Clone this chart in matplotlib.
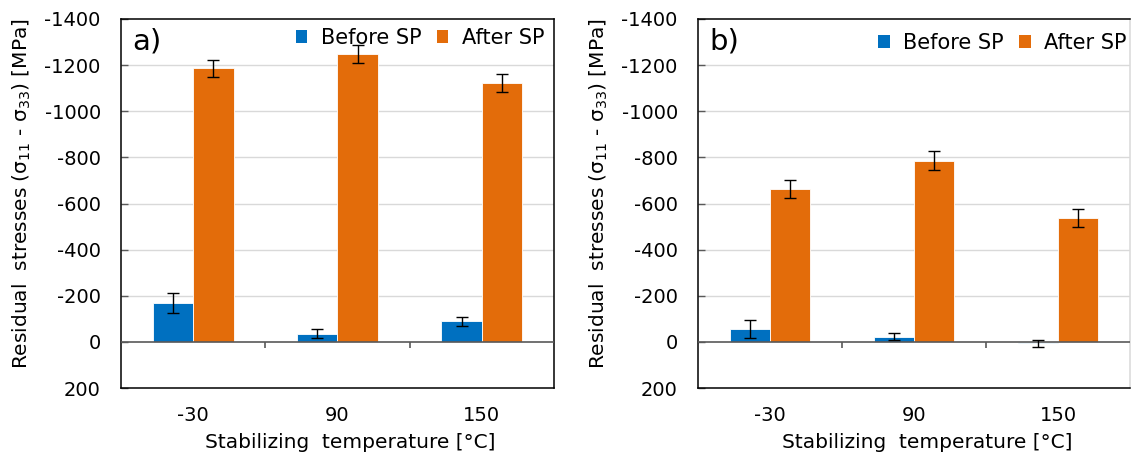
import matplotlib
matplotlib.use("Agg")
import matplotlib.pyplot as plt
from matplotlib.patches import Patch
import numpy as np

plt.rcParams['font.family'] = ['DejaVu Sans']
plt.rcParams['mathtext.default'] = 'regular'

categories = ['-30', '90', '150']
series_names = ['Before SP', 'After SP']

a_before = [-167, -36, -90]
a_before_err = [43, 18, 19]
a_after = [-1187, -1248, -1122]
a_after_err = [37, 38, 38]

b_before = [-56, -22, 7]
b_before_err = [40, 15, 16]
b_after = [-661, -786, -535]
b_after_err = [39, 41, 39]

yticks = [-1400, -1200, -1000, -800, -600, -400, -200, 0, 200]

BLUE = '#0070C0'
ORANGE = '#E36C0A'
GRID = '#d9d9d9'
AXIS = '#595959'

fig = plt.figure(figsize=(11.31, 4.59), dpi=100)

panels = [
    dict(rect=[121/1131, 1-388/459, 433/1131, 369/459], label='a)',
         before=a_before, before_err=a_before_err, after=a_after, after_err=a_after_err,
         leg=(0.978, 0.9485), right_color='black', xright=2.5),
    dict(rect=[698/1131, 1-388/459, 432/1131, 369/459], label='b)',
         before=b_before, before_err=b_before_err, after=b_after, after_err=b_after_err,
         leg=(0.993, 0.935), right_color=GRID, xright=2.5),
]

bw = 0.281
for p in panels:
    ax = fig.add_axes(p['rect'])
    x = np.arange(len(categories))
    ax.set_ylim(200, -1400)
    ax.set_xlim(-0.5, p['xright'])
    for yv in yticks[1:-2]:
        ax.axhline(yv, color=GRID, lw=1.0, zorder=0)
    ax.bar(x - bw/2, p['before'], width=bw, color=BLUE, edgecolor='white', linewidth=0.6, zorder=2)
    ax.bar(x + bw/2, p['after'], width=bw, color=ORANGE, edgecolor='white', linewidth=0.6, zorder=2)
    ax.axhline(0, color=AXIS, lw=1.2, zorder=3)
    ax.errorbar(x - bw/2, p['before'], yerr=p['before_err'], fmt='none', ecolor='black',
                elinewidth=1.0, capsize=4.5, capthick=1.0, zorder=4)
    ax.errorbar(x + bw/2, p['after'], yerr=p['after_err'], fmt='none', ecolor='black',
                elinewidth=1.0, capsize=4.5, capthick=1.0, zorder=4)
    # category separator ticks on the zero axis
    ax.vlines([0.5, 1.5], 0, 26, color=AXIS, lw=1.2, zorder=3)

    ax.set_xticks(x)
    ax.set_xticklabels(categories)
    ax.set_yticks(yticks)
    ax.set_yticklabels([str(v) for v in yticks])
    ax.tick_params(axis='x', length=0, pad=13, labelsize=14)
    ax.tick_params(axis='y', direction='in', length=5, width=1.0, color=AXIS, pad=14.5, labelsize=14)

    for s in ['left', 'top', 'bottom']:
        ax.spines[s].set_color('black')
        ax.spines[s].set_linewidth(1.1)
    ax.spines['right'].set_color(p['right_color'])
    ax.spines['right'].set_linewidth(1.1)

    ax.set_xlabel('Stabilizing  temperature [°C]', fontsize=14.5, va='center', ha='center')
    ax.xaxis.set_label_coords(0.53, -0.149)
    ax.set_ylabel('Residual  stresses (σ$_{11}$ - σ$_{33}$) [MPa]', fontsize=14.5, va='center', ha='center')
    ax.yaxis.set_label_coords(-0.229, 0.526)

    ax.text(0.027, 0.938, p['label'], transform=ax.transAxes, fontsize=21, va='center', ha='left')

    handles = [Patch(facecolor=BLUE, edgecolor='none'), Patch(facecolor=ORANGE, edgecolor='none')]
    ax.legend(handles, series_names, loc='center right', bbox_to_anchor=p['leg'], ncol=2,
              frameon=False, fontsize=15, handlelength=0.55, handleheight=0.55,
              handletextpad=0.65, columnspacing=0.75, borderpad=0, borderaxespad=0)

fig.savefig('out.png', dpi=100)
